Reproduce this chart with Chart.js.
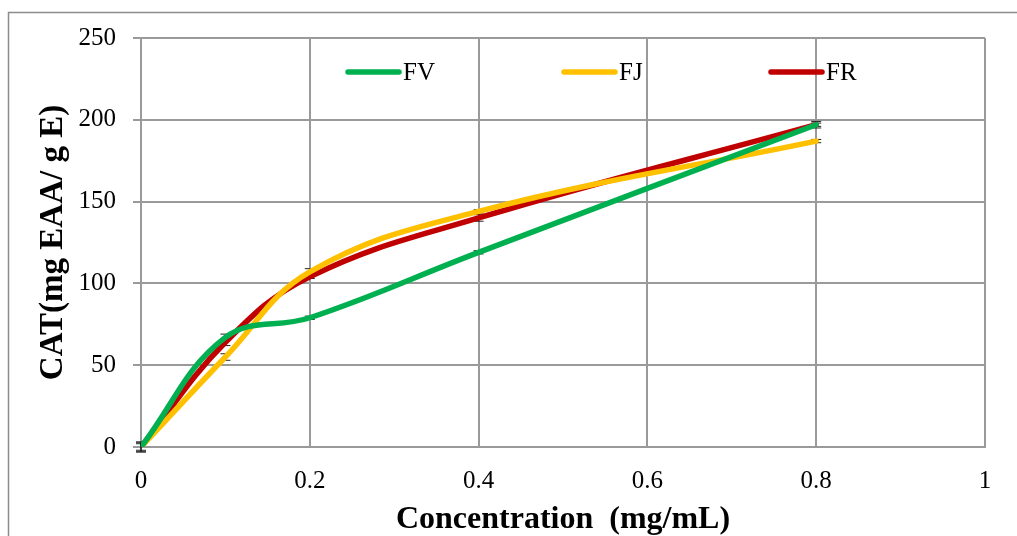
<!DOCTYPE html>
<html>
<head>
<meta charset="utf-8">
<script src="https://cdn.jsdelivr.net/npm/chart.js@4"></script>
<style>
  html, body { margin: 0; padding: 0; background: #fff; }
  #wrap { position: relative; width: 1017px; height: 536px; }
</style>
</head>
<body>
<div id="wrap"><canvas id="c" width="1017" height="536"></canvas></div>
<script>
// ---- data ----
const concentrations = [0, 0.1, 0.2, 0.4, 0.8];
const seriesNames = ['FV', 'FJ', 'FR'];
const fvValues = [0, 67, 79, 119, 197];
const fjValues = [0, 55, 107, 144, 187];
const frValues = [0, 64, 104, 140, 197];
const fvErrors = [3, 2, 1, 1, 2];
const fjErrors = [2, 2, 2, 1, 1];
const frErrors = [3, 2, 1, 2, 1];
const xTicks = [0, 0.2, 0.4, 0.6, 0.8, 1];
const yTicks = [0, 50, 100, 150, 200, 250];
const seriesColors = ['#00B050', '#FFC000', '#C00000'];

const allValues = [fvValues, fjValues, frValues];
const allErrors = [fvErrors, fjErrors, frErrors];

const GRID = '#9a9a9a';
const FONT = 'Liberation Serif, Times New Roman, serif';

const datasets = seriesNames.map((name, i) => ({
  label: name,
  data: concentrations.map((x, j) => ({ x: x, y: allValues[i][j] })),
  errors: allErrors[i],
  borderColor: seriesColors[i],
  backgroundColor: seriesColors[i],
  borderWidth: 5.5,
  borderCapStyle: 'round',
  borderJoinStyle: 'round',
  pointRadius: 0,
  pointHoverRadius: 0,
  tension: 0.4,
  fill: false
}));

const frame = {
  id: 'frame',
  beforeDraw(chart) {
    const ctx = chart.ctx;
    ctx.save();
    ctx.fillStyle = '#fff';
    ctx.fillRect(0, 0, chart.width, chart.height);
    ctx.strokeStyle = '#8c8c8c';
    ctx.lineWidth = 1.5;
    ctx.strokeRect(8.5, 12.5, chart.width + 20, chart.height + 20);
    ctx.restore();
  }
};

const errorBars = {
  id: 'errorBars',
  beforeDatasetsDraw(chart) {
    const ctx = chart.ctx;
    const xs = chart.scales.x, ys = chart.scales.y;
    ctx.save();
    ctx.strokeStyle = '#222';
    ctx.lineWidth = 1;
    chart.data.datasets.forEach(ds => {
      ds.data.forEach((p, j) => {
        const e = ds.errors[j];
        const px = xs.getPixelForValue(p.x);
        const yTop = ys.getPixelForValue(p.y + e);
        const yBot = ys.getPixelForValue(p.y - e);
        ctx.beginPath();
        ctx.moveTo(px, yTop); ctx.lineTo(px, yBot);
        ctx.moveTo(px - 5, yTop); ctx.lineTo(px + 5, yTop);
        ctx.moveTo(px - 5, yBot); ctx.lineTo(px + 5, yBot);
        ctx.stroke();
      });
    });
    ctx.restore();
  }
};

const legendInside = {
  id: 'legendInside',
  afterDraw(chart) {
    const ctx = chart.ctx;
    const starts = [348, 564, 771];
    const y = 72;
    ctx.save();
    chart.data.datasets.forEach((ds, i) => {
      const x0 = starts[i];
      ctx.strokeStyle = ds.borderColor;
      ctx.lineWidth = 5.5;
      ctx.lineCap = 'round';
      ctx.beginPath();
      ctx.moveTo(x0, y);
      ctx.lineTo(x0 + 51, y);
      ctx.stroke();
      ctx.fillStyle = '#000';
      ctx.font = '25px ' + FONT;
      ctx.textBaseline = 'middle';
      ctx.textAlign = 'left';
      ctx.fillText(ds.label, x0 + 55, y + 1);
    });
    ctx.restore();
  }
};

new Chart(document.getElementById('c'), {
  type: 'line',
  data: { datasets: datasets },
  options: {
    responsive: false,
    animation: false,
    events: [],
    layout: { padding: { left: 0, right: 32, top: 38, bottom: 0 } },
    plugins: { legend: { display: false }, tooltip: { enabled: false } },
    scales: {
      x: {
        type: 'linear',
        min: 0, max: 1,
        afterBuildTicks(scale) { scale.ticks = xTicks.map(v => ({ value: v })); },
        afterFit(scale) { scale.height = 89; },
        ticks: {
          color: '#000',
          font: { family: FONT, size: 25 },
          padding: 19,
          maxRotation: 0,
          callback: v => String(v)
        },
        grid: { color: GRID, lineWidth: 2, drawTicks: false },
        border: { color: GRID, width: 2 },
        title: {
          display: true,
          text: 'Concentration  (mg/mL)',
          color: '#000',
          font: { family: FONT, size: 32, weight: 'bold', lineHeight: 1 },
          padding: { top: 0, bottom: 0 }
        }
      },
      y: {
        type: 'linear',
        min: 0, max: 250,
        afterBuildTicks(scale) { scale.ticks = yTicks.map(v => ({ value: v })); },
        afterFit(scale) { scale.width = 141; },
        ticks: {
          color: '#000',
          font: { family: FONT, size: 25 },
          padding: 17,
          callback: v => String(v)
        },
        grid: { color: GRID, lineWidth: 2, drawTicks: true, tickLength: 8 },
        border: { color: GRID, width: 2 },
        title: {
          display: true,
          text: 'CAT(mg EAA/ g E)',
          color: '#000',
          font: { family: FONT, size: 33, weight: 'bold', lineHeight: 1 },
          padding: { top: 37, bottom: 0 }
        }
      }
    }
  },
  plugins: [frame, errorBars, legendInside]
});
</script>
</body>
</html>
